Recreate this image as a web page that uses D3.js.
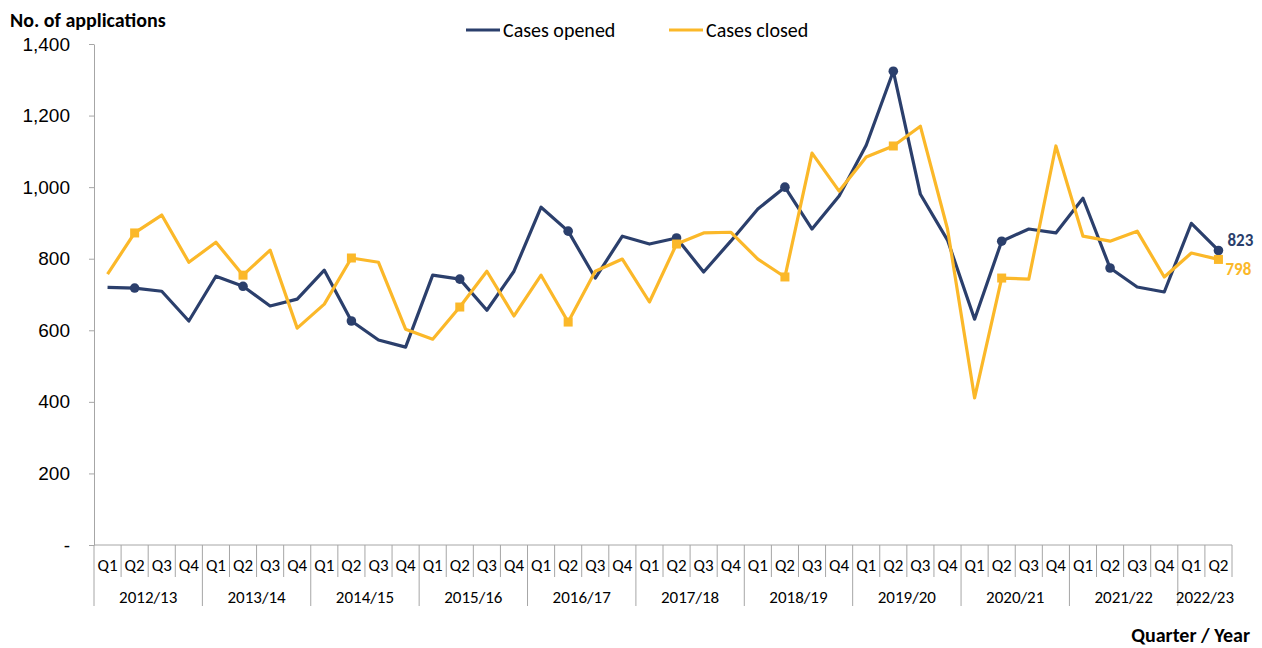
<!DOCTYPE html>
<html lang="en">
<head>
<meta charset="utf-8">
<style>
    body { margin: 0; background: #fff; }
    svg { display: block; font-family: Carlito, Calibri, Lato, "Open Sans", sans-serif; }
    .axis path, .axis line { stroke: #a6a6a6; }
    .axis text { fill: #000; font-size: 19px; }
</style>
</head>
<body>
<svg id="chart" width="1262" height="648"></svg>
<script src="https://cdn.jsdelivr.net/npm/d3@7"></script>
<script>

    var years = ["2012/13", "2013/14", "2014/15", "2015/16", "2016/17", "2017/18",
                 "2018/19", "2019/20", "2020/21", "2021/22", "2022/23"];
    var quarters = ["Q1", "Q2", "Q3", "Q4"];

    var casesOpened = [720, 718, 709, 626, 751, 723, 668, 687, 768, 626, 573, 553,
                  754, 743, 656, 765, 944, 877, 746, 863, 841, 858, 763, 849,
                  939, 1000, 883, 975, 1117, 1324, 980, 852, 631, 849, 883, 872,
                  969, 774, 721, 707, 899, 823];
    var casesClosed = [757, 872, 922, 790, 846, 754, 824, 606, 673, 802, 790, 603,
                  575, 665, 765, 640, 754, 623, 765, 799, 679, 841, 872, 874,
                  799, 749, 1095, 989, 1084, 1115, 1170, 883, 411, 746, 743, 1115,
                  863, 849, 877, 749, 816, 798];

    // the closed series has no marker at this quarter in the original
    var closedUnmarked = ["2021/22 Q2"];

    var yTicks = [0, 200, 400, 600, 800, 1000, 1200, 1400];

    var blue = "#2b3f6c", gold = "#fbb829";

    // one entry per quarter, from the year and quarter lists
    var cats = [];
    years.forEach(function (y) {
        quarters.forEach(function (q) {
            if (cats.length < casesOpened.length) cats.push({ key: y + " " + q, year: y, q: q });
        });
    });

    var svg = d3.select("#chart");
    var plotL = 94, plotR = 1232, plotT = 44, plotB = 545;

    var x = d3.scaleBand()
        .domain(cats.map(function (d) { return d.key; }))
        .range([plotL, plotR]);

    var y = d3.scaleLinear()
        .domain([0, 1400])
        .range([plotB, plotT]);

    // y axis
    svg.append("g")
        .attr("class", "axis")
        .attr("transform", "translate(" + plotL + ",0)")
        .call(d3.axisLeft(y)
            .tickValues(yTicks)
            .tickSize(5)
            .tickSizeOuter(0)
            .tickPadding(19)
            .tickFormat(function (d) { return d == 0 ? "-" : d3.format(",")(d); }));

    // x axis line
    svg.append("line")
        .attr("x1", plotL).attr("x2", plotR)
        .attr("y1", plotB).attr("y2", plotB)
        .attr("stroke", "#a6a6a6");

    // quarter separators + labels
    var catG = svg.append("g");
    cats.forEach(function (d, i) {
        var x0 = x(d.key);
        var isYearStart = d.q == "Q1";
        catG.append("line")
            .attr("x1", x0).attr("x2", x0)
            .attr("y1", plotB).attr("y2", isYearStart ? 606 : 577)
            .attr("stroke", "#a6a6a6");
        catG.append("text")
            .attr("x", x0 + x.bandwidth() / 2)
            .attr("y", 571)
            .attr("text-anchor", "middle")
            .attr("font-size", 17)
            .text(d.q);
    });
    catG.append("line")
        .attr("x1", plotR).attr("x2", plotR)
        .attr("y1", plotB).attr("y2", 577)
        .attr("stroke", "#a6a6a6");

    // year labels
    years.forEach(function (yr) {
        var ks = cats.filter(function (d) { return d.year == yr; });
        var x0 = x(ks[0].key), x1 = x(ks[ks.length - 1].key) + x.bandwidth();
        catG.append("text")
            .attr("x", (x0 + x1) / 2)
            .attr("y", 603)
            .attr("text-anchor", "middle")
            .attr("font-size", 17)
            .text(yr);
    });

    function cx(i) { return x(cats[i].key) + x.bandwidth() / 2; }

    var line = d3.line()
        .x(function (d, i) { return cx(i); })
        .y(function (d) { return y(d); });

    svg.append("path")
        .datum(casesOpened)
        .attr("fill", "none")
        .attr("stroke", blue)
        .attr("stroke-width", 3.2)
        .attr("stroke-linejoin", "round")
        .attr("d", line);

    svg.append("path")
        .datum(casesClosed)
        .attr("fill", "none")
        .attr("stroke", gold)
        .attr("stroke-width", 3.2)
        .attr("stroke-linejoin", "round")
        .attr("d", line);

    // markers on Q2 of each year
    var markIdx = d3.range(casesOpened.length).filter(function (i) { return cats[i].q == "Q2"; });
    var closedIdx = markIdx.filter(function (i) { return closedUnmarked.indexOf(cats[i].key) < 0; });

    svg.append("g").selectAll("circle")
        .data(markIdx)
        .enter().append("circle")
        .attr("cx", cx)
        .attr("cy", function (i) { return y(casesOpened[i]); })
        .attr("r", 4.8)
        .attr("fill", blue);

    svg.append("g").selectAll("rect")
        .data(closedIdx)
        .enter().append("rect")
        .attr("x", function (i) { return cx(i) - 4.5; })
        .attr("y", function (i) { return y(casesClosed[i]) - 4.5; })
        .attr("width", 9)
        .attr("height", 9)
        .attr("fill", gold);

    // end labels
    var last = casesOpened.length - 1;
    svg.append("text")
        .attr("x", cx(last) + 9)
        .attr("y", y(casesOpened[last]) - 4)
        .attr("fill", blue)
        .attr("font-weight", "bold")
        .attr("font-size", 17)
        .text(casesOpened[last]);
    svg.append("text")
        .attr("x", cx(last) + 7)
        .attr("y", y(casesClosed[last]) + 16)
        .attr("fill", gold)
        .attr("font-weight", "bold")
        .attr("font-size", 17)
        .text(casesClosed[last]);

    // titles
    svg.append("text")
        .attr("x", 10).attr("y", 27)
        .attr("font-size", 20)
        .attr("font-weight", "bold")
        .text("No. of applications");

    svg.append("text")
        .attr("x", 1250).attr("y", 642)
        .attr("text-anchor", "end")
        .attr("font-size", 20)
        .attr("font-weight", "bold")
        .text("Quarter / Year");

    // legend
    var legend = [["Cases opened", blue, 466], ["Cases closed", gold, 669]];
    legend.forEach(function (l) {
        svg.append("line")
            .attr("x1", l[2]).attr("x2", l[2] + 34)
            .attr("y1", 30).attr("y2", 30)
            .attr("stroke", l[1])
            .attr("stroke-width", 3.2);
        svg.append("text")
            .attr("x", l[2] + 37).attr("y", 37)
            .attr("font-size", 20)
            .text(l[0]);
    });

</script>
</body>
</html>
